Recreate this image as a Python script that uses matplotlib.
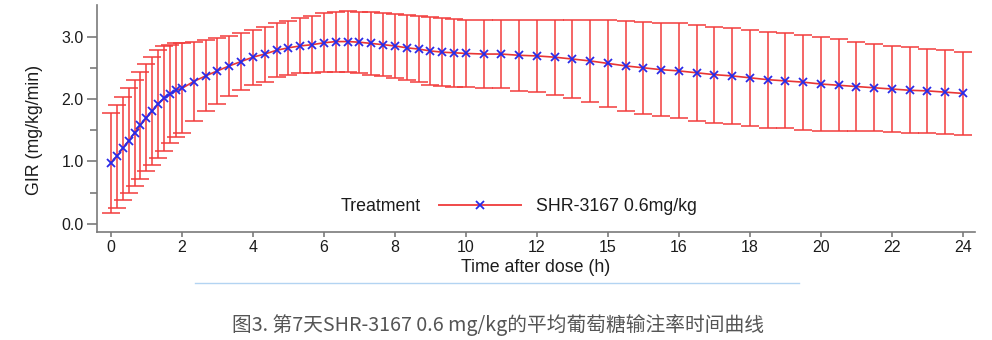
import matplotlib
matplotlib.use('Agg')
import matplotlib.pyplot as plt
import numpy as np
from matplotlib.lines import Line2D

# Sampling times (minutes after dose)
time_min = [0, 10, 20, 30, 40, 50, 60, 70, 80, 90, 100, 110, 120,
            140, 160, 180, 200, 220, 240, 260, 280, 300, 320, 340, 360,
            380, 400, 420, 440, 460, 480, 500, 520, 540, 560, 580, 600,
            630, 660, 690, 720, 750, 780, 810, 840, 870, 900, 930, 960,
            990, 1020, 1050, 1080, 1110, 1140, 1170, 1200, 1230, 1260,
            1290, 1320, 1350, 1380, 1410, 1440]

# Mean GIR (mg/kg/min)
gir_mean = [0.98, 1.08, 1.21, 1.33, 1.46, 1.58, 1.70, 1.81, 1.92, 2.01, 2.08, 2.14, 2.17,
            2.28, 2.37, 2.45, 2.53, 2.60, 2.67, 2.72, 2.78, 2.82, 2.85, 2.87, 2.90,
            2.92, 2.92, 2.91, 2.89, 2.87, 2.85, 2.82, 2.80, 2.77, 2.75, 2.74, 2.73,
            2.72, 2.72, 2.70, 2.69, 2.67, 2.64, 2.61, 2.57, 2.53, 2.50, 2.47, 2.45,
            2.42, 2.39, 2.37, 2.34, 2.31, 2.29, 2.27, 2.24, 2.22, 2.20,
            2.18, 2.16, 2.14, 2.13, 2.11, 2.09]

# Standard deviation
gir_sd = [0.80, 0.83, 0.83, 0.84, 0.85, 0.86, 0.86, 0.87, 0.86, 0.84, 0.79, 0.75, 0.72,
          0.64, 0.57, 0.53, 0.48, 0.46, 0.44, 0.44, 0.43, 0.43, 0.44, 0.46, 0.47,
          0.48, 0.49, 0.49, 0.50, 0.50, 0.51, 0.52, 0.53, 0.54, 0.54, 0.54, 0.54,
          0.54, 0.55, 0.57, 0.58, 0.60, 0.63, 0.65, 0.69, 0.72, 0.74, 0.75, 0.76,
          0.77, 0.77, 0.77, 0.77, 0.77, 0.76, 0.76, 0.76, 0.74, 0.72,
          0.70, 0.69, 0.69, 0.67, 0.67, 0.67]

xtick_pos = [0, 2, 4, 6, 8, 10, 12, 14, 16, 18, 20, 22, 24]
xtick_labels = ['0', '2', '4', '6', '8', '10', '12', '15', '16', '18', '20', '22', '24']
ytick_pos = [0, 1, 2, 3]
ytick_labels = ['0.0', '1.0', '2.0', '3.0']

time_h = np.array(time_min) / 60.0

plt.rcParams['font.family'] = ['Liberation Sans', 'DejaVu Sans']
text_color = '#1c1c1c'
axis_color = '#7a7a7a'
tick_fs = 11.5
label_fs = 12.8

fig = plt.figure(figsize=(9.92, 3.40), dpi=100)
ax = fig.add_axes([0.0978, 0.318, 0.885, 0.667])

# Error bars first, then the mean curve on top
ax.errorbar(time_h, gir_mean, yerr=gir_sd, fmt='none', ecolor='#f23c3c',
            elinewidth=1.1, capsize=6.8, capthick=1.1, zorder=2)
ax.plot(time_h, gir_mean, color='#e83535', lw=1.2, marker='x', ms=6,
        mec='#2a2ae8', mew=1.3, zorder=3)

ax.set_xlim(-0.39, 24.34)
ax.set_ylim(-0.128, 3.504)

ax.set_xticks(xtick_pos)
ax.set_xticklabels(xtick_labels)
ax.set_yticks(ytick_pos)
ax.set_yticklabels(ytick_labels)
ax.set_yticks([0.5, 1.5, 2.5], minor=True)

for side in ['top', 'right']:
    ax.spines[side].set_visible(False)
for side in ['left', 'bottom']:
    ax.spines[side].set_color(axis_color)
    ax.spines[side].set_linewidth(1.2)

ax.tick_params(axis='y', which='major', length=7.5, width=1.2, color=axis_color,
               labelsize=tick_fs, labelcolor=text_color, pad=2)
ax.tick_params(axis='y', which='minor', length=5, width=1.2, color=axis_color)
ax.tick_params(axis='x', which='major', length=3.5, width=1.2, color=axis_color,
               labelsize=tick_fs, labelcolor=text_color, pad=2)

ax.set_xlabel('Time after dose (h)', fontsize=label_fs, color=text_color, labelpad=3)
ax.set_ylabel('GIR (mg/kg/min)', fontsize=label_fs, color=text_color)
ax.yaxis.set_label_coords(-0.0615, 0.45)

# Legend: "Treatment" title on the left, one entry to the right
ax.text(0.277, 0.11, 'Treatment', transform=ax.transAxes, fontsize=label_fs,
        color=text_color, va='center', ha='left')
handle = Line2D([], [], color='#f04a4a', lw=1.4, marker='x', ms=6,
                mec='#2a2ae8', mew=1.3)
ax.legend([handle], ['SHR-3167 0.6mg/kg'], loc='center left',
          bbox_to_anchor=(0.390, 0.11), frameon=False, fontsize=label_fs,
          handlelength=4.6, handletextpad=0.85, borderpad=0, borderaxespad=0,
          numpoints=1, labelcolor=text_color)

# Thin separator line and caption below the chart
fig.add_artist(Line2D([0.197, 0.805], [1 - 283 / 340, 1 - 283 / 340],
                      color='#b3d4f2', lw=1.0, transform=fig.transFigure))
fig.text(0.502, 1 - 325 / 340, '图3. 第7天SHR-3167 0.6 mg/kg的平均葡萄糖输注率时间曲线',
         ha='center', va='center', fontsize=14.2, color='#555555',
         family=['Noto Sans CJK SC', 'DejaVu Sans'])

fig.savefig('out.png', dpi=100)
